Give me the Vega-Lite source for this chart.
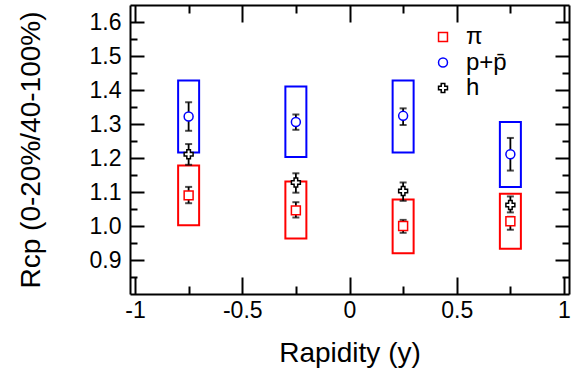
{
  "$schema": "https://vega.github.io/schema/vega-lite/v6.json",
  "width": 439,
  "height": 289,
  "autosize": {"type": "none"},
  "padding": {"left": 130, "top": 5, "right": 19, "bottom": 83},
  "background": "white",
  "config": {
    "view": {"stroke": null},
    "font": "Liberation Sans",
    "axis": {
      "grid": false,
      "domainColor": "black",
      "domainWidth": 2,
      "tickColor": "black",
      "tickWidth": 2,
      "labelColor": "black",
      "labelFontSize": 23,
      "labelFont": "Liberation Sans",
      "titleFont": "Liberation Sans",
      "titleColor": "black",
      "titleFontSize": 28,
      "titleFontWeight": "normal"
    },
    "legend": {
      "labelFontSize": 24,
      "labelFont": "Liberation Sans",
      "labelColor": "black",
      "symbolSize": 80,
      "symbolStrokeWidth": 1.5,
      "symbolFillColor": "white",
      "labelOffset": 11,
      "rowPadding": 1.5
    }
  },
  "data": {
    "values": [
      {"s": "π", "x": -0.75, "y": 1.090, "lo": 1.067, "hi": 1.115, "slo": 1.002, "shi": 1.178},
      {"s": "π", "x": -0.25, "y": 1.046, "lo": 1.025, "hi": 1.070, "slo": 0.963, "shi": 1.131},
      {"s": "π", "x": 0.25, "y": 1.000, "lo": 0.980, "hi": 1.018, "slo": 0.920, "shi": 1.078},
      {"s": "π", "x": 0.75, "y": 1.014, "lo": 0.989, "hi": 1.027, "slo": 0.933, "shi": 1.095},
      {"s": "p+p̄", "x": -0.75, "y": 1.322, "lo": 1.280, "hi": 1.364, "slo": 1.216, "shi": 1.428},
      {"s": "p+p̄", "x": -0.25, "y": 1.306, "lo": 1.283, "hi": 1.328, "slo": 1.203, "shi": 1.410},
      {"s": "p+p̄", "x": 0.25, "y": 1.324, "lo": 1.297, "hi": 1.346, "slo": 1.216, "shi": 1.428},
      {"s": "p+p̄", "x": 0.75, "y": 1.211, "lo": 1.163, "hi": 1.259, "slo": 1.115, "shi": 1.306},
      {"s": "h", "x": -0.75, "y": 1.211, "lo": 1.180, "hi": 1.241},
      {"s": "h", "x": -0.25, "y": 1.128, "lo": 1.098, "hi": 1.155},
      {"s": "h", "x": 0.25, "y": 1.103, "lo": 1.074, "hi": 1.128},
      {"s": "h", "x": 0.75, "y": 1.062, "lo": 1.040, "hi": 1.087}
    ]
  },
  "layer": [
    {
      "encoding": {
        "x": {
          "field": "x", "type": "quantitative",
          "scale": {"domain": [-1, 1], "nice": false, "zero": false},
          "axis": {
            "orient": "bottom",
            "title": "Rapidity (y)",
            "titlePadding": 17,
            "values": [-1, -0.75, -0.5, -0.25, 0, 0.25, 0.5, 0.75, 1],
            "labelExpr": "datum.value === -1 ? '-1' : datum.value === -0.5 ? '-0.5' : datum.value === 0 ? '0' : datum.value === 0.5 ? '0.5' : datum.value === 1 ? '1' : ''",
            "tickSize": {"condition": {"test": "abs(datum.value*2 - round(datum.value*2)) < 0.001", "value": -17}, "value": -8},
            "labelPadding": 22,
            "labelFlush": false
          }
        },
        "y": {
          "field": "y", "type": "quantitative",
          "scale": {"domain": [0.8, 1.65], "nice": false, "zero": false},
          "axis": {
            "orient": "left",
            "title": "Rcp (0-20%/40-100%)",
            "titlePadding": 44,
            "values": [0.85, 0.9, 0.95, 1.0, 1.05, 1.1, 1.15, 1.2, 1.25, 1.3, 1.35, 1.4, 1.45, 1.5, 1.55, 1.6],
            "labelExpr": "abs(datum.value*10 - round(datum.value*10)) < 0.001 ? format(datum.value, '.1f') : ''",
            "tickSize": {"condition": {"test": "abs(datum.value*10 - round(datum.value*10)) < 0.001", "value": -14}, "value": -7},
            "labelPadding": 23,
            "labelFlush": false
          }
        }
      },
      "layer": [
        {
          "transform": [{"filter": "datum.s === 'π'"}],
          "mark": {"type": "bar", "size": 21, "fill": "transparent", "stroke": "#ff0000", "strokeWidth": 2},
          "encoding": {
            "y": {"field": "slo", "type": "quantitative"},
            "y2": {"field": "shi"}
          }
        },
        {
          "transform": [{"filter": "datum.s === 'p+p̄'"}],
          "mark": {"type": "bar", "size": 21, "fill": "transparent", "stroke": "#0000ff", "strokeWidth": 2},
          "encoding": {
            "y": {"field": "slo", "type": "quantitative"},
            "y2": {"field": "shi"}
          }
        },
        {
          "mark": {
            "type": "errorbar",
            "color": "black",
            "rule": {"strokeWidth": 1.8},
            "ticks": {"size": 7, "thickness": 2}
          },
          "encoding": {
            "y": {"field": "lo", "type": "quantitative"},
            "y2": {"field": "hi"}
          }
        },
        {
          "mark": {"type": "point", "filled": false, "fill": "white", "fillOpacity": 1, "size": 80, "strokeWidth": 1.5, "opacity": 1},
          "encoding": {
            "stroke": {
              "field": "s", "type": "nominal",
              "scale": {"domain": ["π", "p+p̄", "h"], "range": ["#ff0000", "#0000ff", "#000000"]},
              "legend": {"title": null, "orient": "none", "legendX": 301, "legendY": 20, "symbolFillColor": "white"}
            },
            "shape": {
              "field": "s", "type": "nominal",
              "scale": {"domain": ["π", "p+p̄", "h"], "range": ["square", "circle", "cross"]},
              "legend": {"title": null, "orient": "none", "legendX": 301, "legendY": 20, "symbolFillColor": "white"}
            }
          }
        }
      ]
    },
    {
      "mark": {"type": "point", "opacity": 0},
      "encoding": {
        "x": {
          "field": "x", "type": "quantitative",
          "axis": {
            "orient": "top", "title": null, "labels": false,
            "values": [-1, -0.75, -0.5, -0.25, 0, 0.25, 0.5, 0.75, 1],
            "tickSize": {"condition": {"test": "abs(datum.value*2 - round(datum.value*2)) < 0.001", "value": -17}, "value": -8}
          }
        },
        "y": {
          "field": "y", "type": "quantitative",
          "axis": {
            "orient": "right", "title": null, "labels": false,
            "values": [0.85, 0.9, 0.95, 1.0, 1.05, 1.1, 1.15, 1.2, 1.25, 1.3, 1.35, 1.4, 1.45, 1.5, 1.55, 1.6],
            "tickSize": {"condition": {"test": "abs(datum.value*10 - round(datum.value*10)) < 0.001", "value": -14}, "value": -7}
          }
        }
      }
    }
  ],
  "resolve": {"axis": {"x": "independent", "y": "independent"}}
}
